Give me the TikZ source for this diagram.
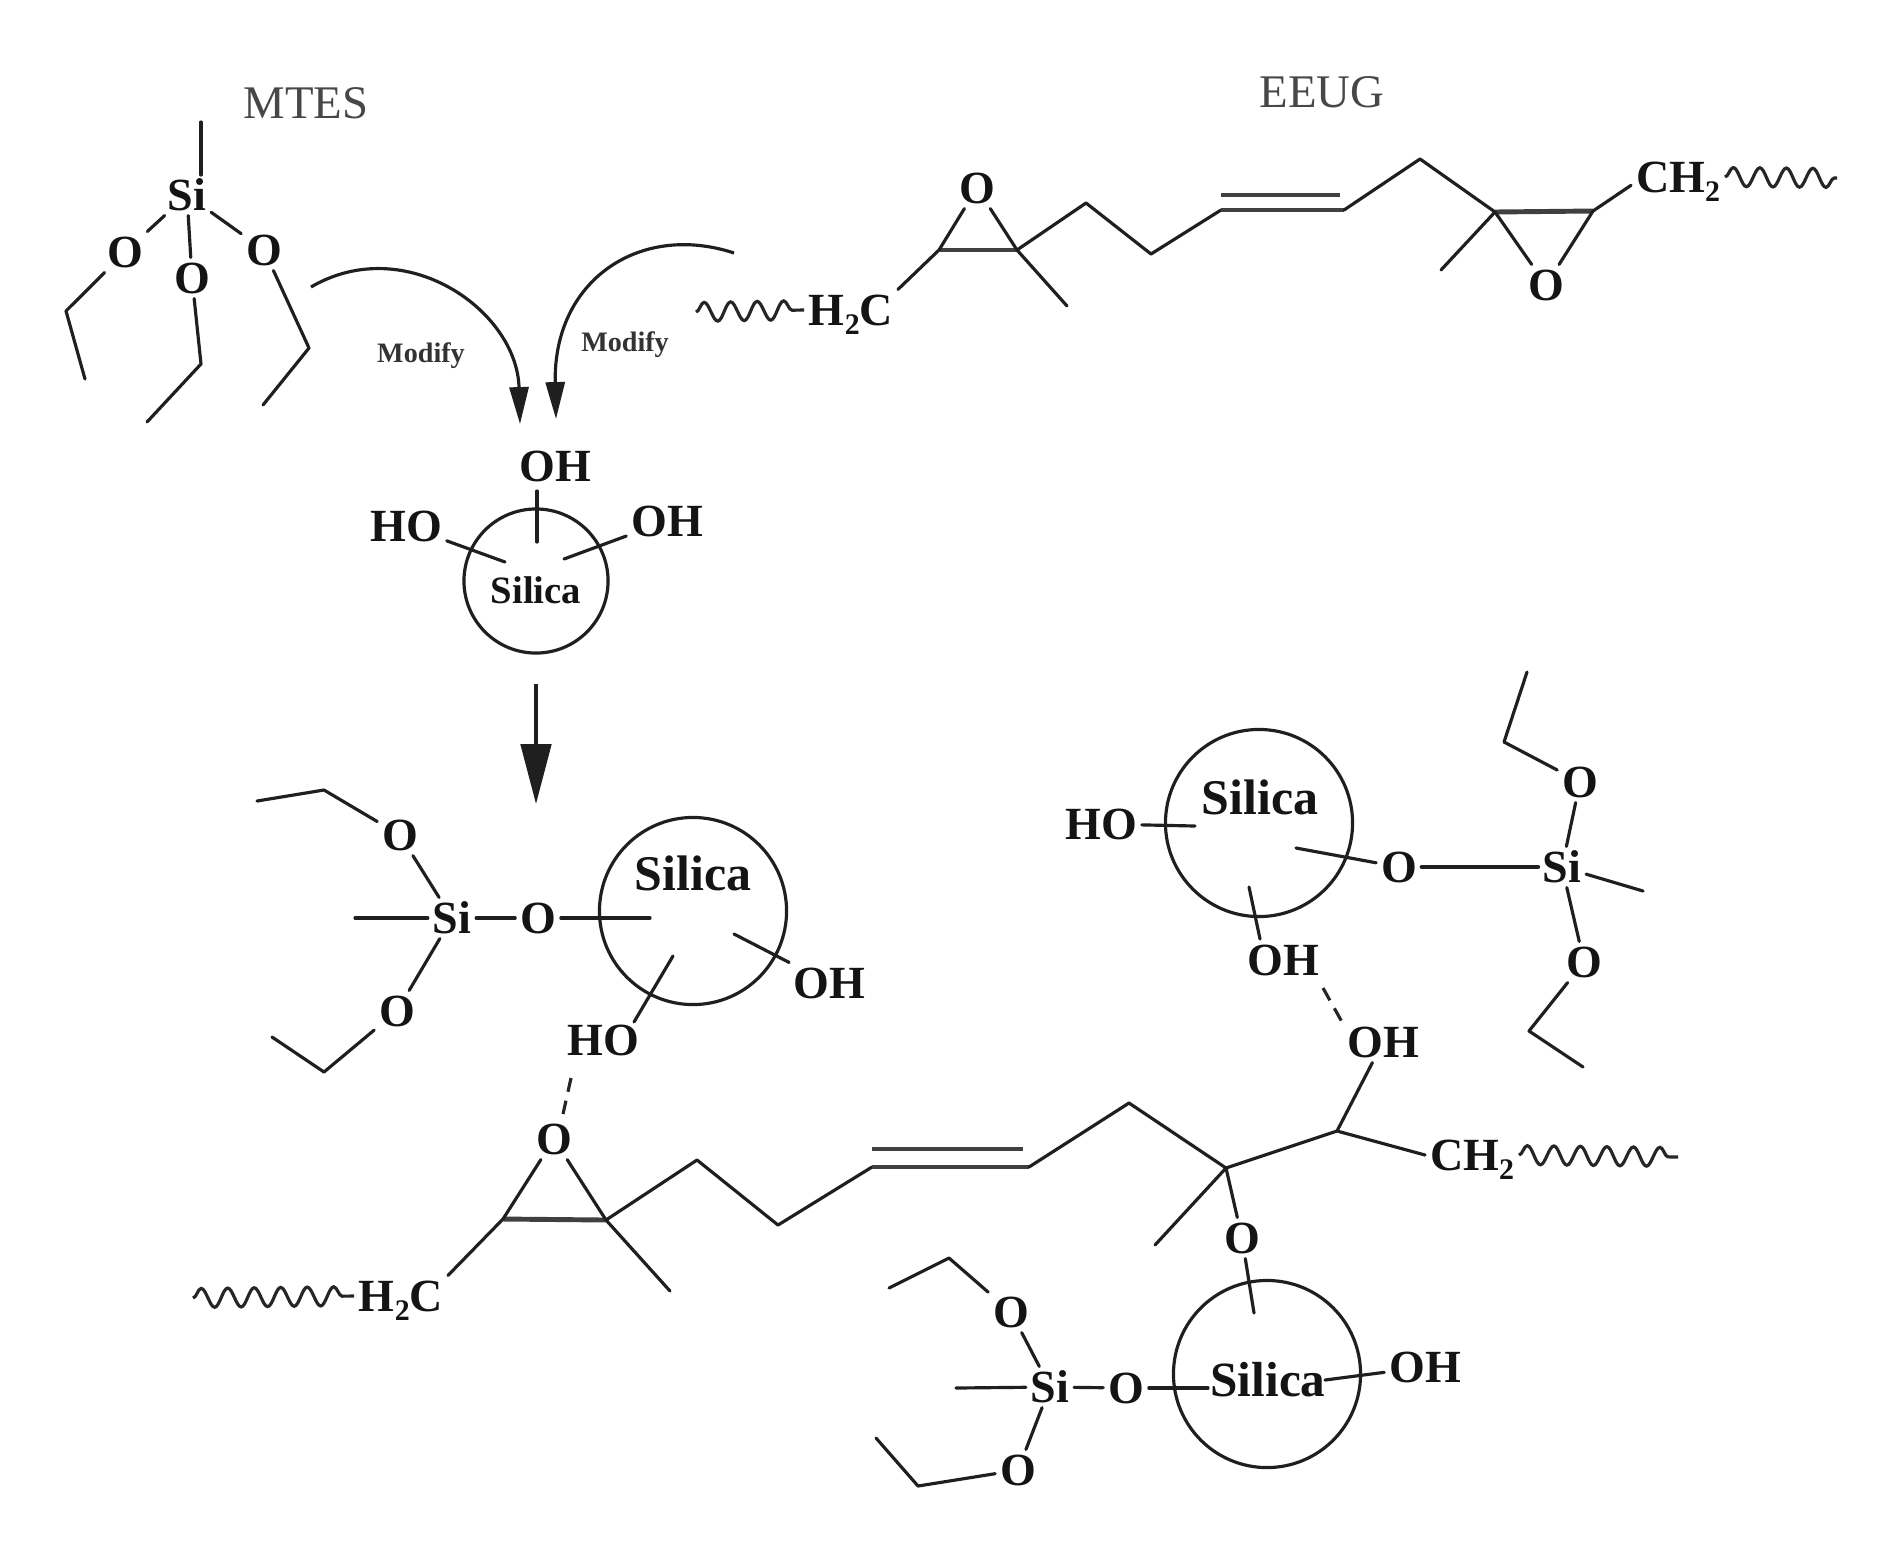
\documentclass[tikz,border=0pt]{standalone}
\usepackage{fontspec}
\setmainfont{Liberation Serif}
\usetikzlibrary{arrows.meta,decorations.pathmorphing}
\newcommand{\lowtwo}{\raisebox{-2.6pt}{\fontsize{8.5pt}{8.5pt}\selectfont 2}}
\tikzset{
  bond/.style={line width=0.9pt,draw=black!88,line cap=round,line join=round},
  thickbond/.style={line width=1.4pt,draw=black!75},
  hbond/.style={line width=0.9pt,draw=black!85,dash pattern=on 4pt off 2.6pt},
  wavy/.style={line width=0.9pt,draw=black!85,decorate,decoration={snake,segment length=0.265cm,amplitude=0.095cm}},
  atom/.style={font=\fontsize{13.1pt}{13.1pt}\selectfont\bfseries,inner sep=1.2pt,text height=8.9pt,text depth=0pt,text=black!92},
  title/.style={font=\fontsize{13.3pt}{13.3pt}\selectfont,text=black!72,inner sep=0pt},
  modify/.style={font=\fontsize{8pt}{8pt}\selectfont\bfseries,text=black!80,inner sep=0pt},
  silicatext/.style={font=\fontsize{#1}{#1}\selectfont\bfseries,inner sep=0pt,text=black!92},
  ball/.style={circle,draw=black!88,line width=0.9pt,inner sep=0pt,minimum size=#1},
  curvearrow/.style={line width=0.9pt,draw=black!88,-{Triangle[length=10.5pt,width=5.4pt]}},
  reactarrow/.style={line width=1.1pt,draw=black!88,-{Triangle[length=17pt,width=8.6pt]}}
}
\begin{document}
\begin{tikzpicture}[x=0.01cm,y=-0.01cm]
\useasboundingbox (0,0) rectangle (1877,1554);
\fill[white] (0,0) rectangle (1877,1554);

% ---- titles
\node[title] (mtes) at (306,103) {MTES};
\node[title] (eeug) at (1322,92) {EEUG};

% ---- MTES molecule
\node[atom] (si1) at (187,195) {Si};
\node[atom] (o1a) at (125,252) {O};
\node[atom] (o1b) at (192,278) {O};
\node[atom] (o1c) at (264,250) {O};
\coordinate (m0) at (201,122);
\coordinate (m0e) at (201,175);
\coordinate (m1) at (66,311);
\coordinate (m1e) at (85,379);
\coordinate (m2) at (201,364);
\coordinate (m2e) at (147,422);
\coordinate (m3) at (309,348);
\coordinate (m3e) at (263,405);
\draw[bond] (m0) -- (m0e);
\draw[bond] (si1) -- (o1a);
\draw[bond] (si1) -- (o1b);
\draw[bond] (si1) -- (o1c);
\draw[bond] (o1a) -- (m1) -- (m1e);
\draw[bond] (o1b) -- (m2) -- (m2e);
\draw[bond] (o1c) -- (m3) -- (m3e);

% ---- Modify arrows
\coordinate (a1s) at (311,287);
\coordinate (a1e) at (520,424);
\coordinate (a2s) at (734,253);
\coordinate (a2e) at (556,419);
\draw[curvearrow] (a1s) .. controls (405,232) and (517,310) .. (a1e);
\draw[curvearrow] (a2s) .. controls (640,222) and (553,280) .. (a2e);
\node[modify] (mod1) at (421,356) {Modify};
\node[modify] (mod2) at (625,345) {Modify};

% ---- EEUG molecule
\node[atom] (h2c1) at (851,310) {H\lowtwo C};
\coordinate (w1) at (696,312);
\draw[wavy] (w1) -- (h2c1.west);
\node[atom] (o2a) at (977,188) {O};
\coordinate (e1) at (939,250);
\coordinate (e2) at (1017,250);
\coordinate (e2m) at (1067,306);
\coordinate (e3) at (1086,203);
\coordinate (e4) at (1151,254);
\coordinate (e5) at (1221,210);
\coordinate (e6) at (1344,210);
\coordinate (e5u) at (1221,195);
\coordinate (e6u) at (1340,195);
\coordinate (e7) at (1420,159);
\coordinate (e8) at (1495,212);
\coordinate (e9) at (1593,211);
\coordinate (e8m) at (1441,270);
\node[atom] (o2b) at (1546,285) {O};
\node[atom] (ch1) at (1678,177) {CH\lowtwo};
\coordinate (w2) at (1837,178);
\draw[bond] (h2c1.north east) -- (e1);
\draw[thickbond] (e1) -- (e2);
\draw[bond] (e1) -- (o2a);
\draw[bond] (e2) -- (o2a);
\draw[bond] (e2m) -- (e2) -- (e3) -- (e4) -- (e5);
\draw[thickbond] (e5) -- (e6);
\draw[thickbond] (e5u) -- (e6u);
\draw[bond] (e6) -- (e7) -- (e8);
\draw[thickbond] (e8) -- (e9);
\draw[bond] (e8m) -- (e8) -- (o2b);
\draw[bond] (e9) -- (o2b);
\draw[bond] (e9) -- (ch1.190);
\draw[wavy] (ch1.east) -- (w2);

% ---- central silica
\node[ball=1.44cm] (ballA) at (536,581) {};
\node[silicatext=11pt] (silA) at (536,590) {Silica};
\node[atom] (ohA1) at (555,466) {OH};
\node[atom] (hoA2) at (406,526) {HO};
\node[atom] (ohA3) at (667,521) {OH};
\coordinate (bA1s) at (537,491);
\coordinate (bA1e) at (537,542);
\coordinate (bA2e) at (505,562);
\coordinate (bA3e) at (564,559);
\draw[bond] (bA1s) -- (bA1e);
\draw[bond] (hoA2) -- (bA2e);
\draw[bond] (ohA3) -- (bA3e);

% ---- main reaction arrow
\coordinate (r1) at (536,684);
\coordinate (r2) at (536,804);
\draw[reactarrow] (r1) -- (r2);

% ---- lower-left silica
\node[ball=1.87cm] (ballB) at (693,911) {};
\node[silicatext=14.2pt] (silB) at (693,873) {Silica};
\node[atom] (si2) at (452,918) {Si};
\node[atom] (o3) at (538,918) {O};
\node[atom] (o3a) at (400,835) {O};
\node[atom] (o3b) at (397,1011) {O};
\node[atom] (ohB) at (829,983) {OH};
\node[atom] (hoB) at (603,1040) {HO};
\coordinate (bBm) at (355,918);
\coordinate (bBi) at (650,918);
\coordinate (bB1) at (324,790);
\coordinate (bB1e) at (257,801);
\coordinate (bB2) at (324,1072);
\coordinate (bB2e) at (272,1037);
\coordinate (bBh) at (673,956);
\coordinate (bBhs) at (634,1022);
\coordinate (bBo) at (734,934);
\draw[bond] (bBm) -- (si2);
\draw[bond] (si2) -- (o3);
\draw[bond] (o3) -- (bBi);
\draw[bond] (si2) -- (o3a);
\draw[bond] (si2) -- (o3b);
\draw[bond] (o3a) -- (bB1) -- (bB1e);
\draw[bond] (o3b) -- (bB2) -- (bB2e);
\draw[bond] (bBhs) -- (bBh);
\draw[bond] (ohB) -- (bBo);

% ---- hydrogen bond to lower epoxide
\node[atom] (o4) at (554,1139) {O};
\coordinate (hb1s) at (571,1078);
\coordinate (hb1e) at (563,1114);
\draw[hbond] (hb1s) -- (hb1e);

% ---- lower chain
\node[atom] (h2c2) at (401,1296) {H\lowtwo C};
\coordinate (w3) at (193,1298);
\draw[wavy] (w3) -- (h2c2.west);
\coordinate (f1) at (503,1219);
\coordinate (f2) at (606,1220);
\coordinate (f2m) at (670,1291);
\coordinate (f3) at (697,1160);
\coordinate (f4) at (778,1225);
\coordinate (f5) at (872,1167);
\coordinate (f6) at (1029,1167);
\coordinate (f5u) at (872,1149);
\coordinate (f6u) at (1023,1149);
\coordinate (f7) at (1129,1103);
\coordinate (f8) at (1226,1168);
\coordinate (f9) at (1337,1131);
\coordinate (f8m) at (1155,1245);
\node[atom] (o5) at (1242,1238) {O};
\node[atom] (ch2) at (1472,1155) {CH\lowtwo};
\coordinate (w4) at (1678,1157);
\node[atom] (ohC) at (1383,1042) {OH};
\draw[bond] (h2c2.north east) -- (f1);
\draw[thickbond] (f1) -- (f2);
\draw[bond] (f1) -- (o4);
\draw[bond] (f2) -- (o4);
\draw[bond] (f2m) -- (f2) -- (f3) -- (f4) -- (f5);
\draw[thickbond] (f5) -- (f6);
\draw[thickbond] (f5u) -- (f6u);
\draw[bond] (f6) -- (f7) -- (f8) -- (f9) -- (ch2.west);
\draw[bond] (f8m) -- (f8) -- (o5);
\draw[bond] (f9) -- (ohC);
\draw[wavy] (ch2.east) -- (w4);

% ---- lower-right silica
\node[ball=1.87cm] (ballC) at (1267,1374) {};
\node[silicatext=14pt] (silC) at (1268,1380) {Silica};
\node[atom] (si3) at (1050,1387) {Si};
\node[atom] (o6) at (1126,1388) {O};
\node[atom] (o6a) at (1011,1312) {O};
\node[atom] (o6b) at (1018,1470) {O};
\node[atom] (ohD) at (1425,1367) {OH};
\coordinate (bCm) at (956,1388);
\coordinate (bCi) at (1208,1388);
\coordinate (bCt) at (1254,1313);
\coordinate (bCr) at (1325,1380);
\coordinate (bC1) at (949,1258);
\coordinate (bC1e) at (889,1288);
\coordinate (bC2) at (918,1486);
\coordinate (bC2e) at (876,1438);
\draw[bond] (bCm) -- (si3);
\draw[bond] (si3) -- (o6);
\draw[bond] (o6) -- (bCi);
\draw[bond] (o5) -- (bCt);
\draw[bond] (bCr) -- (ohD);
\draw[bond] (si3) -- (o6a);
\draw[bond] (si3) -- (o6b);
\draw[bond] (o6a) -- (bC1) -- (bC1e);
\draw[bond] (o6b) -- (bC2) -- (bC2e);

% ---- upper-right silica
\node[ball=1.87cm] (ballD) at (1259,823) {};
\node[silicatext=14.2pt] (silD) at (1260,797) {Silica};
\node[atom] (hoD) at (1101,824) {HO};
\node[atom] (ohE) at (1283,960) {OH};
\node[atom] (o7) at (1399,867) {O};
\node[atom] (si4) at (1562,867) {Si};
\node[atom] (o7a) at (1580,782) {O};
\node[atom] (o7b) at (1584,962) {O};
\coordinate (bDh) at (1195,826);
\coordinate (bDo) at (1296,848);
\coordinate (bDb) at (1249,887);
\coordinate (bDbe) at (1260,939);
\coordinate (bDm) at (1643,891);
\coordinate (bD1) at (1504,742);
\coordinate (bD1e) at (1527,672);
\coordinate (bD2) at (1529,1031);
\coordinate (bD2e) at (1583,1067);
\coordinate (hb2s) at (1323,988);
\coordinate (hb2e) at (1342,1022);
\draw[bond] (hoD) -- (bDh);
\draw[bond] (bDo) -- (o7);
\draw[bond] (bDb) -- (bDbe);
\draw[bond,line width=1.3pt] (o7) -- (si4);
\draw[bond] (si4) -- (bDm);
\draw[bond] (si4) -- (o7a);
\draw[bond] (si4) -- (o7b);
\draw[bond] (o7a) -- (bD1) -- (bD1e);
\draw[bond] (o7b) -- (bD2) -- (bD2e);
\draw[hbond] (hb2s) -- (hb2e);
\end{tikzpicture}
\end{document}
